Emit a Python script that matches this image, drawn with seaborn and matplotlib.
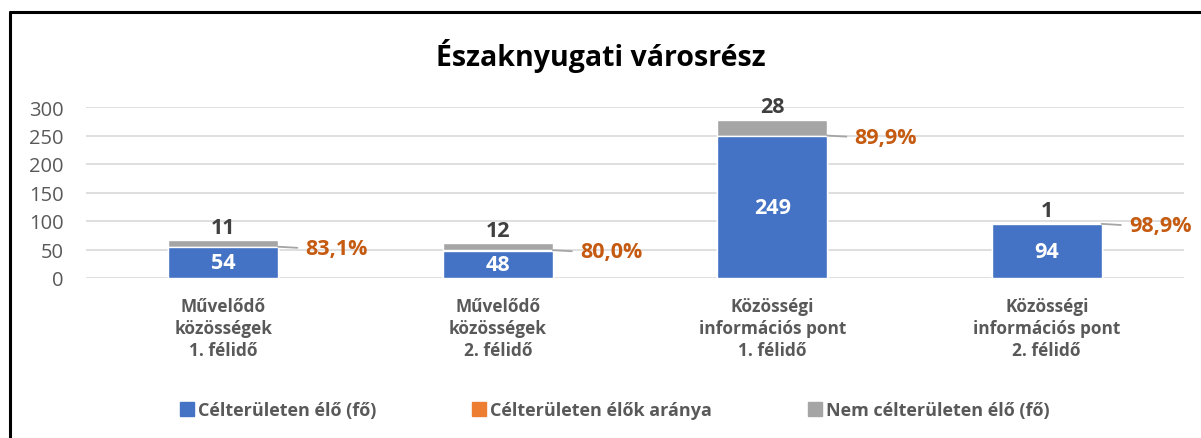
import pandas as pd
import matplotlib.pyplot as plt
import seaborn as sns
from matplotlib.lines import Line2D

# Data
categories = ["Művelődő\nközösségek\n1. félidő", "Művelődő\nközösségek\n2. félidő",
              "Közösségi\ninformációs pont\n1. félidő", "Közösségi\ninformációs pont\n2. félidő"]
celterulet = [54, 48, 249, 94]
nem_celterulet = [11, 12, 28, 1]
arany = [0.831, 0.800, 0.899, 0.989]
arany_labels = ["83,1%", "80,0%", "89,9%", "98,9%"]

blue = "#4472C4"
orange = "#ED7D31"
gray = "#A5A5A5"
txt_gray = "#595959"

df = pd.DataFrame({"kat": categories, "cel": celterulet, "nem": nem_celterulet, "arany": arany})
df["cel_ar"] = df["cel"] + df["arany"]
df["osszes"] = df["cel_ar"] + df["nem"]

sns.set_theme(style="white")
plt.rcParams["font.family"] = ["Open Sans", "DejaVu Sans"]

fig = plt.figure(figsize=(12.01, 4.39), dpi=100)
ax = fig.add_axes([86 / 1201, 160 / 439, 1098 / 1201, 171 / 439])

# stacked look by overlaying cumulative totals
sns.barplot(data=df, x="kat", y="osszes", color=gray, width=0.4, saturation=1, ax=ax, zorder=2)
sns.barplot(data=df, x="kat", y="cel_ar", color=orange, width=0.4, saturation=1, ax=ax, zorder=3)
sns.barplot(data=df, x="kat", y="cel", color=blue, width=0.4, saturation=1, ax=ax, zorder=4)

ax.set_ylim(0, 300)
ax.set_xlim(-0.5, 3.5)
ax.set_yticks(range(0, 301, 50))
ax.yaxis.grid(True, color="#D9D9D9", linewidth=1.2)
ax.set_axisbelow(True)
for s in ax.spines.values():
    s.set_visible(False)
ax.set_xlabel("")
ax.set_ylabel("")
ax.tick_params(axis="y", length=0, pad=16, labelsize=14.5, labelcolor=txt_gray)
ax.tick_params(axis="x", length=0, pad=14, labelsize=12.4, labelcolor=txt_gray)
for lbl in ax.get_xticklabels():
    lbl.set_fontweight("bold")
    lbl.set_linespacing(1.27)

for i, row in df.iterrows():
    # blue value
    ax.text(i, row["cel"] / 2, str(row["cel"]), ha="center", va="center",
            color="white", fontsize=15.5, fontweight="bold", zorder=5)
    # gray value above
    ax.annotate(str(row["nem"]), (i, row["osszes"]), xytext=(0, 2), textcoords="offset points",
                ha="center", va="bottom", color="#404040", fontsize=15.5, fontweight="bold")
    # percentage with leader line
    ly = row["cel"] - 2
    ax.plot([i + 0.2, i + 0.27], [row["cel_ar"], ly + 1], color=gray, lw=1.3, zorder=5)
    ax.text(i + 0.3, ly, arany_labels[i], ha="left", va="center",
            color="#C55A11", fontsize=15.5, fontweight="bold")

fig.text(0.5, 1 - 56 / 439, "Északnyugati városrész", ha="center", va="center",
         fontsize=20.5, fontweight="bold", color="black")

handles = [Line2D([], [], marker="s", ls="", color=c, markersize=9.5) for c in (blue, orange, gray)]
fig.legend(handles, ["Célterületen élő (fő)", "Célterületen élők aránya", "Nem célterületen élő (fő)"],
           loc="center", bbox_to_anchor=(0.511, 1 - 411 / 439), ncol=3, frameon=False,
           handlelength=1.0, handletextpad=0.1, columnspacing=5.2, prop={"size": 13, "weight": "bold"},
           labelcolor=txt_gray)

# chart border (top and left visible in reference)
fig.add_artist(Line2D([9.5 / 1201, 9.5 / 1201], [0, 1 - 12.5 / 439], color="black", lw=2.2,
                      transform=fig.transFigure))
fig.add_artist(Line2D([9.5 / 1201, 1], [1 - 12.5 / 439, 1 - 12.5 / 439], color="black", lw=2.2,
                      transform=fig.transFigure))

fig.savefig("out.png", dpi=100)
